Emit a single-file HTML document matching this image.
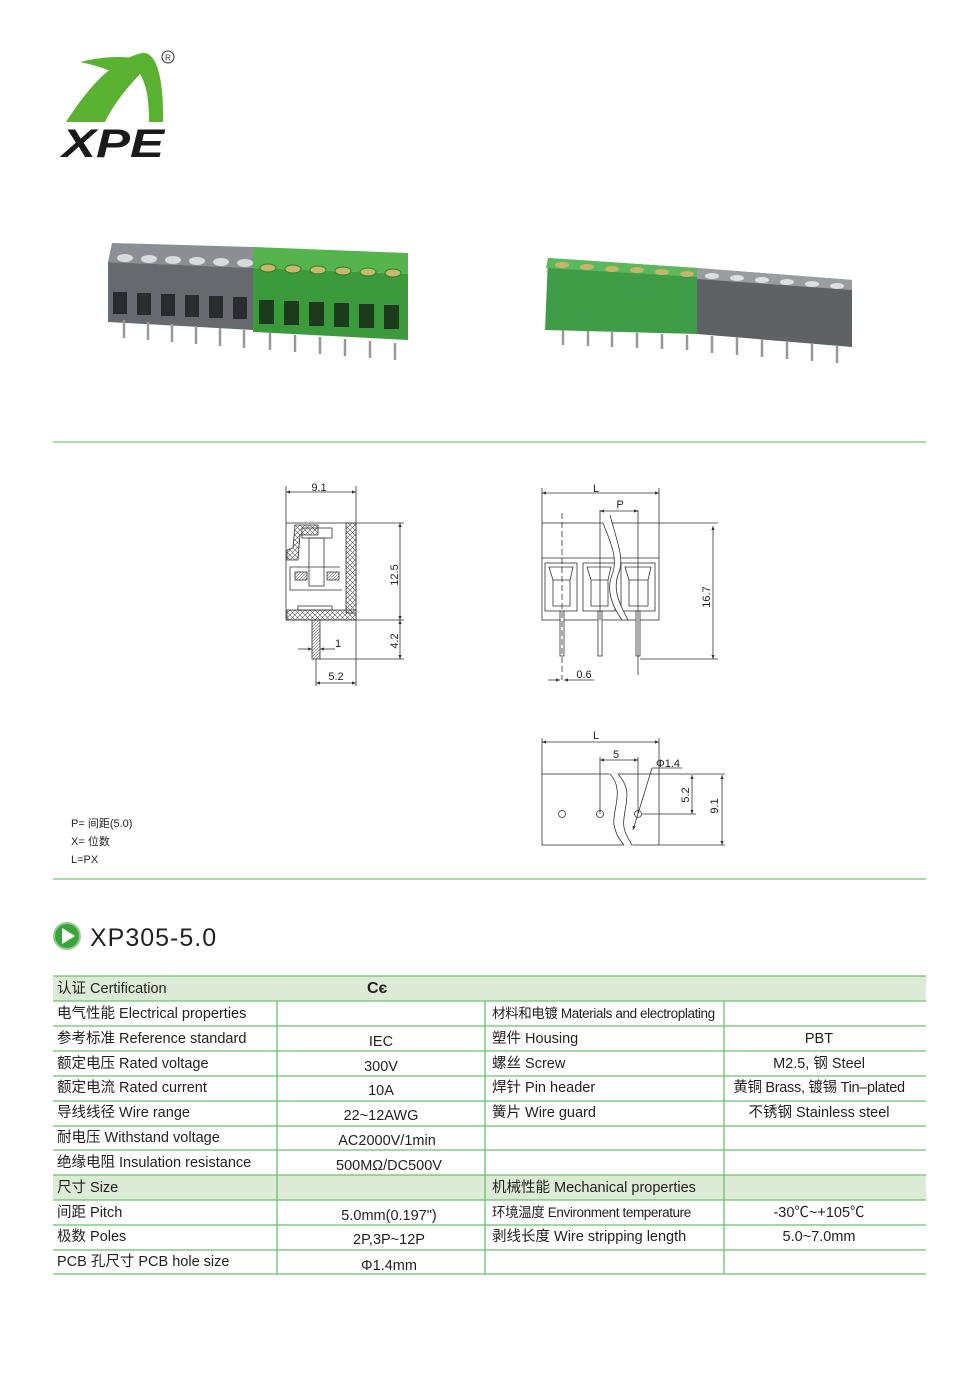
<!DOCTYPE html>
<html><head><meta charset="utf-8">
<style>
html,body{margin:0;padding:0;background:#fff;}
body{width:980px;height:1394px;position:relative;overflow:hidden;font-family:"Liberation Sans","Noto Sans CJK SC",sans-serif;color:#231f20;}
svg{position:absolute;left:0;top:0;}
.t{position:absolute;font-size:14.5px;line-height:16px;white-space:nowrap;}
.c{text-align:center;}
</style></head><body>
<svg width="980" height="1394" viewBox="0 0 980 1394" xmlns="http://www.w3.org/2000/svg" font-family="Liberation Sans, sans-serif">
<defs>
<marker id="a" viewBox="0 0 10 10" refX="10" refY="5" markerWidth="7" markerHeight="5" orient="auto-start-reverse"><path d="M0,1 L10,5 L0,9z" fill="#333"/></marker>
<pattern id="h" width="5" height="5" patternUnits="userSpaceOnUse"><path d="M0,5 L5,0 M0,0 L5,5" stroke="#555" stroke-width="0.6"/></pattern>
<pattern id="d" width="3" height="3" patternUnits="userSpaceOnUse"><path d="M0,3 L3,0" stroke="#555" stroke-width="0.6"/></pattern>
</defs>
<!-- logo -->
<path d="M66,122 C88,88 112,60 142,53 C157,51 164,80 163,122 L149,122 C149,100 147,86 140,74 C126,89 113,105 105,122 Z" fill="#5bb131"/>
<path d="M80,62 C100,57 118,56 135,58 L122,76 C110,70 95,65 80,62 Z" fill="#5bb131"/>
<circle cx="168" cy="57" r="6" fill="none" stroke="#333" stroke-width="1"/>
<text x="168" y="60.5" font-size="8" text-anchor="middle" fill="#333">R</text>
<text x="62" y="157" font-size="40" font-weight="bold" font-style="italic" fill="#1a1a1a" textLength="102" lengthAdjust="spacingAndGlyphs">XPE</text>

<!-- left product -->
<polygon points="112,243 253,247 253,268 108,262" fill="#8b8e92"/>
<polygon points="253,247 408,253 408,274 253,268" fill="#55b44e"/>
<polygon points="108,262 253,268 253,330 108,322" fill="#66696d"/>
<polygon points="253,268 408,274 408,340 253,332" fill="#3b9a3c"/>
<g fill="#d8dadc"><ellipse cx="125" cy="258" rx="8" ry="4"/><ellipse cx="149" cy="259" rx="8" ry="4"/><ellipse cx="173" cy="260" rx="8" ry="4"/><ellipse cx="197" cy="261" rx="8" ry="4"/><ellipse cx="221" cy="262" rx="8" ry="4"/><ellipse cx="245" cy="263" rx="8" ry="4"/></g>
<g fill="#c9b86a" stroke="#2d7a2c"><ellipse cx="268" cy="268" rx="8" ry="4"/><ellipse cx="293" cy="269" rx="8" ry="4"/><ellipse cx="318" cy="270" rx="8" ry="4"/><ellipse cx="343" cy="271" rx="8" ry="4"/><ellipse cx="368" cy="272" rx="8" ry="4"/><ellipse cx="393" cy="273" rx="8" ry="4"/></g>
<g fill="#2a2b2d"><rect x="113" y="292" width="14" height="22"/><rect x="137" y="293" width="14" height="22"/><rect x="161" y="294" width="14" height="22"/><rect x="185" y="295" width="14" height="22"/><rect x="209" y="296" width="14" height="22"/><rect x="233" y="297" width="14" height="22"/></g>
<g fill="#1c3a1c"><rect x="259" y="300" width="15" height="24"/><rect x="284" y="301" width="15" height="24"/><rect x="309" y="302" width="15" height="24"/><rect x="334" y="303" width="15" height="24"/><rect x="359" y="304" width="15" height="24"/><rect x="384" y="305" width="15" height="24"/></g>
<g stroke="#999" stroke-width="2.5"><path d="M124,320V338M148,322V340M172,324V342M196,326V344M220,328V346M244,330V348M270,333V350M295,335V352M320,337V354M345,339V356M370,341V358M395,343V360"/></g>

<!-- right product -->
<polygon points="548,258 697,268 697,334 545,330" fill="#3f9d47"/>
<polygon points="548,258 697,268 697,277 546,268" fill="#5cb85c"/>
<polygon points="697,268 852,280 852,347 697,334" fill="#5f6265"/>
<polygon points="697,268 852,280 852,290 697,279" fill="#9a9da0"/>
<g fill="#c8b46a"><ellipse cx="562" cy="265" rx="7" ry="3"/><ellipse cx="587" cy="267" rx="7" ry="3"/><ellipse cx="612" cy="269" rx="7" ry="3"/><ellipse cx="637" cy="270" rx="7" ry="3"/><ellipse cx="662" cy="272" rx="7" ry="3"/><ellipse cx="687" cy="274" rx="7" ry="3"/></g>
<g fill="#dcdee0"><ellipse cx="712" cy="276" rx="7" ry="3"/><ellipse cx="737" cy="278" rx="7" ry="3"/><ellipse cx="762" cy="280" rx="7" ry="3"/><ellipse cx="787" cy="282" rx="7" ry="3"/><ellipse cx="812" cy="284" rx="7" ry="3"/><ellipse cx="837" cy="286" rx="7" ry="3"/></g>
<g stroke="#999" stroke-width="2.5"><path d="M563,330V345M588,331V346M612,332V347M637,333V348M662,334V349M687,335V350M712,336V353M737,337V355M762,339V357M787,341V359M812,343V361M837,345V363"/></g>

<!-- separators -->
<line x1="53" y1="442" x2="926" y2="442" stroke="#8fcf8f" stroke-width="1.5"/>
<line x1="53" y1="879" x2="926" y2="879" stroke="#8fcf8f" stroke-width="1.5"/>

<g stroke="#333" stroke-width="0.8" fill="none" font-size="11">
<!-- side view -->
<rect x="286" y="523" width="70" height="97"/>
<rect x="287" y="610" width="69" height="10" fill="url(#h)"/>
<rect x="346" y="523" width="10" height="90" fill="url(#h)"/>
<path d="M295,525 L318,525 L318,535 L300,535 L298,560 L287,560 L287,550 L293,548z" fill="url(#h)"/>
<rect x="302" y="528" width="30" height="10"/>
<rect x="309" y="538" width="15" height="48"/>
<path d="M290,567 L340,567 M290,567 L290,590 L342,590"/>
<rect x="295" y="572" width="12" height="8" fill="url(#d)"/>
<rect x="327" y="572" width="12" height="8" fill="url(#d)"/>
<rect x="312" y="620" width="8" height="39" fill="url(#d)"/>
<rect x="298" y="606" width="34" height="4"/>
<path d="M286,523V486 M356,523V486"/>
<line x1="286" y1="492" x2="356" y2="492" marker-start="url(#a)" marker-end="url(#a)"/>
<path d="M356,523H404 M356,620H404 M320,659H404"/>
<line x1="400" y1="523" x2="400" y2="620" marker-start="url(#a)" marker-end="url(#a)"/>
<line x1="400" y1="620" x2="400" y2="659" marker-start="url(#a)" marker-end="url(#a)"/>
<line x1="298" y1="649" x2="312" y2="649" marker-end="url(#a)"/>
<line x1="335" y1="649" x2="320" y2="649" marker-end="url(#a)"/>
<path d="M316,659V686 M356,620V686"/>
<line x1="316" y1="683" x2="356" y2="683" marker-start="url(#a)" marker-end="url(#a)"/>

<!-- front view -->
<rect x="542" y="523" width="117" height="97"/>
<line x1="542" y1="558" x2="659" y2="558"/>
<rect x="545" y="563" width="32" height="48"/><path d="M549,567 L573,567 L570,580 L570,606 L553,606 L553,580z M553,580 L570,580"/>
<rect x="583" y="563" width="32" height="48"/><path d="M587,567 L611,567 L608,580 L608,606 L591,606 L591,580z M591,580 L608,580"/>
<rect x="621" y="563" width="34" height="48"/><path d="M625,567 L651,567 L648,580 L648,606 L629,606 L629,580z M629,580 L648,580"/>
<path d="M603,523 C612,545 618,560 612,575 C605,592 615,610 622,620 L628,620 C622,608 612,592 618,575 C625,560 618,545 610,515" fill="#fff"/>
<rect x="560" y="611" width="4" height="45" fill="#fff"/><rect x="598" y="611" width="4" height="45" fill="#fff"/><rect x="636" y="611" width="4" height="45" fill="#fff"/>
<line x1="562" y1="513" x2="562" y2="680" stroke-dasharray="6,3"/>
<path d="M542,523V488 M659,523V488"/>
<line x1="542" y1="493" x2="659" y2="493" marker-start="url(#a)" marker-end="url(#a)"/>
<path d="M600,510V620 M638,510V675"/>
<line x1="600" y1="511" x2="638" y2="511" marker-start="url(#a)" marker-end="url(#a)"/>
<path d="M659,523H718 M640,659H718"/>
<line x1="713" y1="526" x2="713" y2="659" marker-start="url(#a)" marker-end="url(#a)"/>
<line x1="548" y1="680" x2="560" y2="680" marker-end="url(#a)"/>
<line x1="594" y1="680" x2="564" y2="680" marker-end="url(#a)"/>

<!-- bottom view -->
<rect x="542" y="774" width="117" height="71"/>
<path d="M610,774 C625,790 612,810 614,825 C616,835 620,840 624,845 L632,845 C628,838 622,830 624,818 C626,800 632,790 618,774z" fill="#fff" stroke="#fff"/>
<path d="M610,774 C625,790 612,810 614,825 C616,835 620,840 624,845 M618,774 C632,790 626,800 624,818 C622,830 628,838 632,845"/>
<circle cx="562" cy="814" r="3.5"/><circle cx="600" cy="814" r="3.5"/><circle cx="638" cy="814" r="3.5"/>
<path d="M542,774V738 M659,774V738"/>
<line x1="542" y1="742" x2="659" y2="742" marker-start="url(#a)" marker-end="url(#a)"/>
<path d="M600,757V814 M638,757V814"/>
<line x1="600" y1="760" x2="638" y2="760" marker-start="url(#a)" marker-end="url(#a)"/>
<line x1="652" y1="768" x2="633" y2="830" marker-end="url(#a)"/>
<path d="M652,768H682 M659,774H725 M642,814H696 M659,845H725"/>
<line x1="692" y1="775" x2="692" y2="814" marker-start="url(#a)" marker-end="url(#a)"/>
<line x1="722" y1="775" x2="722" y2="845" marker-start="url(#a)" marker-end="url(#a)"/>
</g>
<g font-size="11" fill="#222">
<text x="319" y="491" text-anchor="middle">9.1</text>
<text x="398" y="575" text-anchor="middle" transform="rotate(-90 398 575)">12.5</text>
<text x="398" y="641" text-anchor="middle" transform="rotate(-90 398 641)">4.2</text>
<text x="338" y="647" text-anchor="middle">1</text>
<text x="336" y="680" text-anchor="middle">5.2</text>
<text x="596" y="492" text-anchor="middle">L</text>
<text x="620" y="508" text-anchor="middle">P</text>
<text x="710" y="597" text-anchor="middle" transform="rotate(-90 710 597)">16.7</text>
<text x="584" y="678" text-anchor="middle">0.6</text>
<text x="596" y="739" text-anchor="middle">L</text>
<text x="616" y="758" text-anchor="middle">5</text>
<text x="668" y="767" text-anchor="middle">Φ1.4</text>
<text x="689" y="795" text-anchor="middle" transform="rotate(-90 689 795)">5.2</text>
<text x="718" y="806" text-anchor="middle" transform="rotate(-90 718 806)">9.1</text>
</g>

<!-- title icon -->
<circle cx="67" cy="936" r="13" fill="#3ca33c" stroke="#8fcf8f" stroke-width="2"/>
<path d="M62,928 L75,936 L62,944z" fill="#fff"/>

<!-- table -->
<rect x="53" y="976" width="873" height="25" fill="#dcebd5"/>
<rect x="53" y="1175" width="873" height="25" fill="#dcebd5"/>
<g stroke="#6cbf6c" stroke-width="1.3">
<path d="M53,976H926 M53,1001H926 M53,1026H926 M53,1051H926 M53,1076H926 M53,1101H926 M53,1126H926 M53,1150H926 M53,1175H926 M53,1200H926 M53,1225H926 M53,1250H926 M53,1274H926"/>
<path d="M277,1001V1274 M485,1001V1274 M724,1001V1274"/>
</g>
</svg>

<div class="t" style="left:71px;top:816px;font-size:11px;">P= 间距(5.0)</div>
<div class="t" style="left:71px;top:834px;font-size:11px;">X= 位数</div>
<div class="t" style="left:71px;top:852px;font-size:11px;">L=PX</div>
<div class="t" style="left:90px;top:924px;font-size:25px;line-height:28px;letter-spacing:1px;">XP305-5.0</div>

<div class="t" style="left:57px;top:981px;">认证 Certification</div>
<div class="t" style="left:367px;top:981px;font-weight:bold;font-size:16px;">C&#1108;</div>

<div class="t" style="left:57px;top:1006px;">电气性能 Electrical properties</div>
<div class="t" style="left:57px;top:1031px;">参考标准 Reference standard</div>
<div class="t" style="left:57px;top:1056px;">额定电压 Rated voltage</div>
<div class="t" style="left:57px;top:1080px;">额定电流 Rated current</div>
<div class="t" style="left:57px;top:1105px;">导线线径 Wire range</div>
<div class="t" style="left:57px;top:1130px;">耐电压 Withstand voltage</div>
<div class="t" style="left:57px;top:1155px;">绝缘电阻 Insulation resistance</div>
<div class="t" style="left:57px;top:1180px;">尺寸 Size</div>
<div class="t" style="left:57px;top:1205px;">间距 Pitch</div>
<div class="t" style="left:57px;top:1229px;">极数 Poles</div>
<div class="t" style="left:57px;top:1254px;">PCB 孔尺寸 PCB hole size</div>

<div class="t c" style="left:277px;width:208px;top:1034px;">IEC</div>
<div class="t c" style="left:277px;width:208px;top:1059px;">300V</div>
<div class="t c" style="left:277px;width:208px;top:1083px;">10A</div>
<div class="t c" style="left:277px;width:208px;top:1108px;">22~12AWG</div>
<div class="t c" style="left:277px;width:220px;top:1133px;">AC2000V/1min</div>
<div class="t c" style="left:277px;width:224px;top:1158px;">500MΩ/DC500V</div>
<div class="t c" style="left:277px;width:224px;top:1208px;">5.0mm(0.197")</div>
<div class="t c" style="left:277px;width:224px;top:1232px;">2P,3P~12P</div>
<div class="t c" style="left:277px;width:224px;top:1258px;">Φ1.4mm</div>

<div class="t" style="left:492px;top:1006px;font-size:13.5px;letter-spacing:-0.4px;">材料和电镀 Materials and electroplating</div>
<div class="t" style="left:492px;top:1031px;">塑件 Housing</div>
<div class="t" style="left:492px;top:1056px;">螺丝 Screw</div>
<div class="t" style="left:492px;top:1080px;">焊针 Pin header</div>
<div class="t" style="left:492px;top:1105px;">簧片 Wire guard</div>
<div class="t" style="left:492px;top:1180px;">机械性能 Mechanical properties</div>
<div class="t" style="left:492px;top:1205px;font-size:13.5px;letter-spacing:-0.4px;">环境温度 Environment temperature</div>
<div class="t" style="left:492px;top:1229px;">剥线长度 Wire stripping length</div>

<div class="t c" style="left:724px;width:190px;top:1031px;">PBT</div>
<div class="t c" style="left:724px;width:190px;top:1056px;">M2.5, 钢 Steel</div>
<div class="t c" style="left:724px;width:190px;top:1080px;letter-spacing:-0.3px;">黄铜 Brass, 镀锡 Tin–plated</div>
<div class="t c" style="left:724px;width:190px;top:1105px;">不锈钢 Stainless steel</div>
<div class="t c" style="left:724px;width:190px;top:1205px;">-30℃~+105℃</div>
<div class="t c" style="left:724px;width:190px;top:1229px;">5.0~7.0mm</div>
</body></html>
